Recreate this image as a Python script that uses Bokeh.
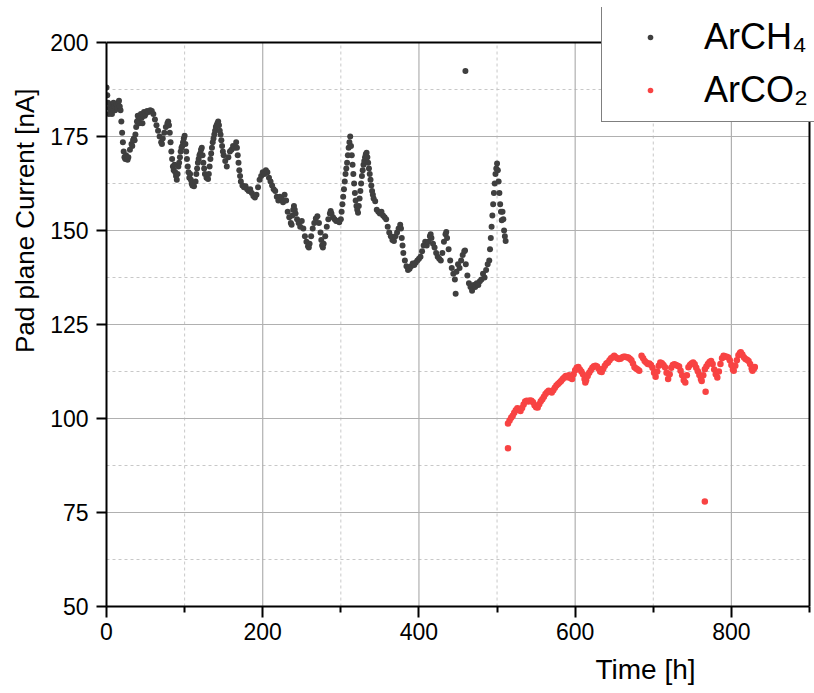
from bokeh.plotting import figure
from bokeh.models import Range1d, FixedTicker, Legend, LegendItem, Title
from bokeh.embed import file_html
from bokeh.resources import INLINE

# ---------------- data ----------------
time_ch4 = [0, 1, 2, 3, 4, 5, 6, 7, 8, 9, 10, 11, 12, 13, 14, 15, 16, 17, 18, 19, 20, 21, 22, 23, 24, 25, 26, 27, 28, 30, 32, 33, 34, 35, 36, 37, 38, 39, 40, 41, 42, 43, 44, 45, 46, 47, 48, 49, 50, 52, 54, 56, 58, 60, 62, 64, 66, 68, 70, 71, 72, 74, 76, 78, 79, 80, 81, 82, 83, 84, 85, 86, 87, 88, 89, 90, 91, 92, 93, 94, 95, 96, 97, 98, 99, 100, 101, 102, 103, 104, 105, 106, 107, 108, 109, 110, 112, 114, 115, 116, 117, 118, 119, 120, 121, 122, 123, 124, 125, 126, 128, 130, 131, 132, 133, 134, 135, 136, 137, 138, 139, 140, 141, 142, 143, 144, 145, 146, 147, 148, 149, 150, 152, 154, 156, 158, 160, 162, 164, 166, 167, 168, 169, 170, 171, 172, 174, 176, 178, 180, 182, 184, 186, 188, 190, 192, 194, 196, 198, 200, 202, 204, 206, 208, 210, 212, 214, 216, 218, 220, 222, 224, 226, 228, 230, 232, 234, 236, 237, 238, 239, 240, 241, 242, 244, 246, 248, 250, 252, 254, 256, 258, 259, 260, 262, 264, 266, 268, 270, 272, 274, 275, 276, 277, 278, 280, 282, 284, 286, 287, 288, 290, 292, 294, 296, 298, 300, 301, 302, 303, 304, 305, 306, 307, 308, 309, 310, 311, 312, 313, 314, 315, 316, 317, 318, 319, 320, 321, 322, 323, 324, 325, 326, 327, 328, 329, 330, 331, 332, 333, 334, 335, 336, 337, 338, 339, 340, 341, 342, 344, 346, 348, 350, 352, 354, 356, 358, 360, 362, 364, 366, 368, 370, 372, 374, 376, 377, 378, 379, 380, 382, 384, 386, 388, 390, 392, 394, 396, 398, 400, 402, 404, 406, 408, 410, 412, 414, 415, 416, 418, 420, 422, 424, 426, 428, 430, 432, 434, 435, 436, 438, 440, 442, 444, 446, 447, 448, 450, 452, 454, 456, 458, 459, 459.5, 460, 462, 464, 466, 468, 470, 472, 474, 476, 478, 480, 482, 484, 486, 488, 490, 491, 492, 493, 494, 495, 496, 497, 498, 499, 500, 501, 502, 503, 504, 505, 506, 507, 508, 509, 510, 511]
current_ch4 = [188, 186, 184, 181, 182.5, 183.5, 182, 181, 182.5, 184, 183, 182, 183, 183.5, 182.5, 184, 184.5, 183, 182, 179, 176, 173.5, 171, 169.5, 169, 170, 169, 168.8, 169.5, 171.5, 173, 172.5, 174, 174.5, 174, 175.5, 177.5, 179, 180.5, 179.5, 178.5, 180, 181, 180, 178.5, 180.5, 181.5, 180.5, 181, 181.8, 181.5, 182, 181.8, 181, 179.5, 178, 176.5, 175, 173.5, 173, 174.5, 176, 177.5, 178.5, 179, 178, 176, 173.5, 171, 169, 167, 166, 167.5, 165.5, 164.5, 163.5, 165, 167, 168, 169.5, 171, 172, 172.5, 173.5, 174.5, 175.2, 173, 171, 169, 167, 165.5, 164, 165, 163.5, 162.5, 162, 161.8, 163, 165, 166.5, 168, 169, 170, 170.5, 171.5, 172, 170, 168, 166.5, 165, 164, 163.7, 165, 167, 169, 170.5, 172, 173.5, 174.5, 175.5, 176.5, 177.5, 178, 178.5, 179, 178, 176.5, 175.5, 174, 172.5, 171, 170, 168.5, 167, 169.5, 171, 171.5, 172.5, 172, 173.5, 172, 170, 168, 166, 164.5, 163, 162, 161.5, 161.8, 161, 160.5, 161, 160, 159.2, 158.8, 159.5, 161.5, 163.5, 164.5, 165.5, 165, 166, 165.5, 164, 163, 162, 161, 160.5, 159, 158, 159, 158.5, 157.5, 159.5, 158, 155, 153.5, 152, 151.5, 154, 155.5, 156.5, 155.5, 154.5, 153, 152, 151, 152.5, 150.5, 148.5, 147, 145.8, 145.5, 146.5, 148.5, 150.5, 152, 153.2, 153.8, 152, 149.5, 147.5, 146, 145.5, 146.5, 148.5, 151, 153, 154.5, 155.2, 154.5, 153.5, 153, 152.5, 152.5, 152.2, 153, 155, 157, 159, 161, 163, 165, 166.5, 168, 170, 172, 173.5, 175, 172.5, 170, 167.5, 165, 162.5, 160, 158, 156.5, 155.5, 154.7, 156.5, 158.5, 160.5, 162.5, 164.5, 166, 167.5, 168.5, 169.5, 170.3, 170.7, 169.5, 168, 166.5, 165, 163.5, 162, 160.5, 159.5, 158.5, 157.8, 155.5, 155, 154.5, 155, 154, 153.5, 153, 151, 149.5, 148.5, 147.5, 147.2, 148.5, 149.5, 150.5, 151.5, 150.5, 148, 146, 144, 142, 140.5, 139.5, 139.8, 140.5, 141.2, 140.8, 141.5, 142, 142.5, 143, 144.5, 146, 147, 146, 147, 148.5, 149, 148, 146.5, 145.5, 144, 143, 142.5, 142, 144, 147, 149, 149.6, 148, 145, 142, 140, 138.5, 137, 133.2, 139, 141, 140, 142, 143.5, 144.5, 144.7, 192.4, 141, 138, 136, 135, 134, 135.5, 135, 136, 135.5, 136.5, 137, 138.5, 137.5, 139.5, 141, 142, 145, 148, 151, 154, 157, 160, 162.5, 165, 166.5, 167.8, 166, 163, 160, 157, 155, 152.7, 155, 153, 150, 148.5, 147.2]

time_co2 = [514, 514, 516, 518, 520, 522, 524, 526, 528, 530, 532, 534, 536, 538, 540, 542, 544, 546, 548, 550, 552, 554, 556, 558, 560, 562, 564, 566, 568, 570, 572, 574, 576, 578, 580, 582, 584, 586, 588, 590, 592, 594, 596, 598, 600, 602, 604, 606, 608, 610, 612, 613, 614, 616, 618, 620, 622, 624, 626, 628, 630, 632, 634, 636, 638, 640, 642, 644, 646, 648, 650, 652, 654, 656, 658, 660, 662, 664, 666, 668, 670, 672, 674, 676, 678, 680, 682, 685, 687, 689, 691, 693, 695, 697, 699, 701, 703, 705, 707, 709, 711, 713, 715, 717, 719, 721, 723, 725, 727, 729, 731, 733, 735, 737, 739, 741, 743, 745, 747, 749, 751, 753, 755, 757, 759, 761, 762, 764, 766, 766, 767, 768, 770, 772, 774, 776, 778, 780, 782, 784, 786, 788, 790, 792, 794, 796, 798, 800, 802, 803, 805, 807, 809, 811, 812, 814, 816, 818, 820, 822, 824, 826, 827, 829, 830]
current_co2 = [92.1, 98.7, 99.5, 100.2, 100.7, 101.5, 102.2, 102.7, 102.5, 102, 102.8, 103.7, 104.5, 104.7, 104.5, 104.8, 104.7, 104.3, 103.5, 103, 102.9, 103.8, 104.6, 105.1, 105.8, 106.5, 107, 107.4, 107.2, 106.9, 107.5, 108.2, 108.8, 109.2, 109.6, 110, 110.5, 110.9, 111.3, 111, 111.5, 110.8, 110.5, 111.8, 112.8, 113.5, 113.7, 113, 112.5, 111.8, 110.5, 109.6, 110.2, 111.3, 112.2, 112.8, 113.5, 113.9, 114, 113.8, 113.2, 112.5, 112.4, 113.2, 114, 114.6, 114.9, 115.5, 116, 116.3, 116.7, 116.3, 116, 115.8, 115.9, 116.2, 116.4, 116.4, 116.3, 116.2, 115.9, 115.5, 114.6, 113.6, 113.3, 113, 112.7, 116.7, 116, 115.3, 114.9, 114.5, 114.6, 114.2, 113.5, 112.2, 111.1, 112.5, 114, 114.9, 114.7, 114.2, 113.6, 112.2, 110.5, 111.8, 113.5, 114.2, 114.4, 114.2, 114, 113.8, 112.7, 111.5, 110.2, 109.6, 111.5, 113.6, 114.2, 114.6, 114.9, 114.4, 113.5, 112.6, 111.6, 110.5, 110, 111.5, 113.1, 77.9, 107.1, 113.8, 114.5, 115, 115.3, 114.5, 113, 111.8, 110.9, 112.5, 114.5, 116, 116.7, 116.5, 116.4, 116.2, 115.5, 114.2, 113, 112.7, 114, 115.5, 116.8, 117.4, 117.6, 117, 116.3, 115.8, 115.6, 115.3, 114.5, 113.3, 112.7, 113.3, 113.7]

series_names = ["ArCH\u2084", "ArCO\u2082"]
series_colors = ["#3f3f3f", "#f84343"]

x_lim = [0, 900]
y_lim = [50, 200]
x_major = [0, 200, 400, 600, 800]
x_minor = [100, 300, 500, 700, 900]
y_major = [50, 75, 100, 125, 150, 175, 200]
y_minor = [62.5, 87.5, 112.5, 137.5, 162.5, 187.5]

x_title = "Time [h]"
y_title = "Pad plane Current [nA]"

FONT = "Liberation Sans"

# The frame is made a little larger than the axes box so that the legend
# (which overlaps the box's top and right edges) is not clipped; the box
# itself is drawn from the axis limits.
x_pad = 6.4
y_pad = 9.31

p = figure(width=814, height=693, output_backend="svg", toolbar_location=None,
           x_range=Range1d(x_lim[0], x_lim[1] + x_pad),
           y_range=Range1d(y_lim[0], y_lim[1] + y_pad),
           min_border_left=106, min_border_right=0, min_border_top=7, min_border_bottom=87)
p.background_fill_color = "white"
p.border_fill_color = "white"
p.outline_line_color = None
p.xgrid.visible = False
p.ygrid.visible = False

# grid lines (from the tick arrays)
vx_major = [v for v in x_major if x_lim[0] < v < x_lim[1]]
vx_minor = [v for v in x_minor if x_lim[0] < v < x_lim[1]]
hy_major = [v for v in y_major if y_lim[0] < v < y_lim[1]]
hy_minor = [v for v in y_minor if y_lim[0] < v < y_lim[1]]

p.segment(x0=vx_minor, y0=[y_lim[0]] * len(vx_minor), x1=vx_minor, y1=[y_lim[1]] * len(vx_minor),
          line_color="#c8c8c8", line_width=1, line_dash="3 3", level="underlay")
p.segment(x0=[x_lim[0]] * len(hy_minor), y0=hy_minor, x1=[x_lim[1]] * len(hy_minor), y1=hy_minor,
          line_color="#c8c8c8", line_width=1, line_dash="3 3", level="underlay")
p.segment(x0=vx_major, y0=[y_lim[0]] * len(vx_major), x1=vx_major, y1=[y_lim[1]] * len(vx_major),
          line_color="#b0b0b0", line_width=1.2, level="underlay")
p.segment(x0=[x_lim[0]] * len(hy_major), y0=hy_major, x1=[x_lim[1]] * len(hy_major), y1=hy_major,
          line_color="#b0b0b0", line_width=1.2, level="underlay")

r1 = p.scatter(time_ch4, current_ch4, size=6, color=series_colors[0], line_color=None)
r2 = p.scatter(time_co2, current_co2, size=6.5, color=series_colors[1], line_color=None)

# top and right edges of the axes box
p.segment(x0=[x_lim[0], x_lim[1]], y0=[y_lim[1], y_lim[0]], x1=[x_lim[1], x_lim[1]], y1=[y_lim[1], y_lim[1]],
          line_color="black", line_width=2)

p.xaxis.ticker = FixedTicker(ticks=x_major, minor_ticks=x_minor)
p.yaxis.ticker = FixedTicker(ticks=y_major, minor_ticks=y_minor)
p.xaxis.bounds = (x_lim[0], x_lim[1])
p.yaxis.bounds = (y_lim[0], y_lim[1])

for ax in (p.xaxis[0], p.yaxis[0]):
    ax.axis_line_color = "black"
    ax.axis_line_width = 2
    ax.major_tick_line_color = "black"
    ax.major_tick_line_width = 2
    ax.major_tick_in = 0
    ax.minor_tick_line_color = "black"
    ax.minor_tick_line_width = 2
    ax.minor_tick_in = 0
    ax.major_label_text_font = FONT
    ax.major_label_text_font_size = "23px"
    ax.major_label_text_color = "black"

p.xaxis.major_tick_out = 11
p.xaxis.minor_tick_out = 6
p.xaxis.major_label_standoff = 5
p.yaxis.major_tick_out = 10
p.yaxis.minor_tick_out = 0
p.yaxis.major_label_standoff = 8

# axis titles, off-centre like the reference
p.add_layout(Title(text=x_title, align="left", offset=489, text_font=FONT,
                   text_font_size="28px", text_font_style="normal",
                   text_color="black", standoff=18), "below")
p.add_layout(Title(text=y_title, align="right", offset=81, text_font=FONT,
                   text_font_size="26px", text_font_style="normal",
                   text_color="black", standoff=15), "left")

legend = Legend(items=[LegendItem(label=series_names[0], renderers=[r1]),
                       LegendItem(label=series_names[1], renderers=[r2])],
                location=(495, 484), orientation="vertical")
legend.label_text_font = FONT
legend.label_text_font_size = "36px"
legend.label_text_color = "black"
legend.padding = 9
legend.spacing = 9
legend.glyph_width = 78
legend.glyph_height = 14
legend.label_height = 44
legend.label_standoff = 15
legend.margin = 0
legend.border_line_color = "black"
legend.border_line_width = 1.5
legend.background_fill_color = "white"
legend.background_fill_alpha = 1.0
p.add_layout(legend, "center")

open("out.html", "w").write(file_html(p, INLINE))
